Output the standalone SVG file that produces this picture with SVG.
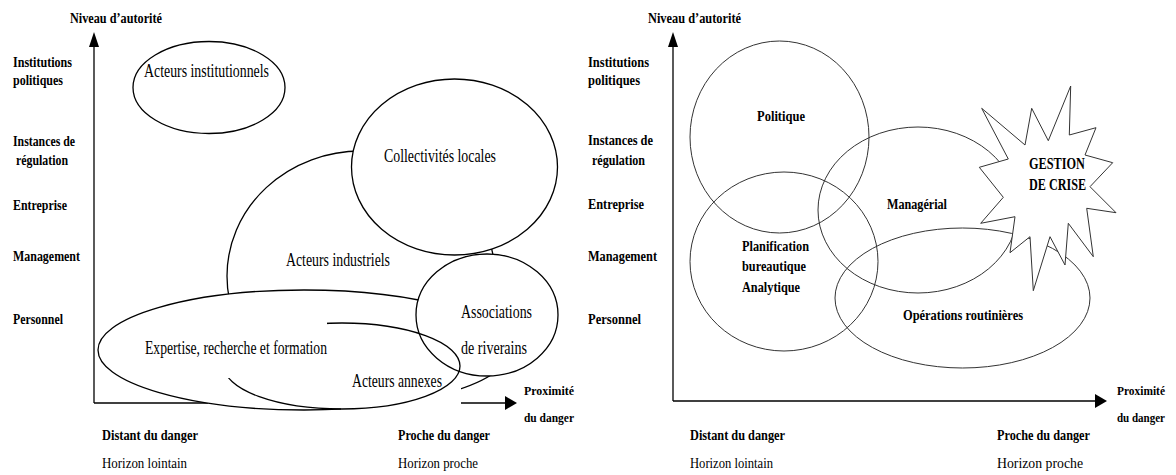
<svg xmlns="http://www.w3.org/2000/svg" width="1176" height="475" viewBox="0 0 1176 475">
<style>
.lbl{font-family:"Liberation Serif","Times New Roman",serif;font-weight:bold;font-size:15px;fill:#000}
.reg{font-family:"Liberation Serif","Times New Roman",serif;font-size:15px;fill:#000}
.nt{font-family:"Liberation Serif","Times New Roman",serif;font-size:19px;fill:#000}
.lsh{fill:#fff;stroke:#000;stroke-width:1.3}
.lnf{fill:none;stroke:#000;stroke-width:1.3}
.rsh{fill:none;stroke:#333;stroke-width:1}
.ax{stroke:#000;stroke-width:1.3;fill:none}
.hd{fill:#000}
.sm{font-size:13px}
</style>
<rect width="1176" height="475" fill="#fff"/>
<!-- LEFT DIAGRAM -->
<g id="left-axes">
<line class="ax" x1="94" y1="46" x2="94" y2="403"/>
<polygon class="hd" points="94,32 89,47 99,47"/>
<line class="ax" x1="94" y1="403" x2="208" y2="403"/>
<line class="ax" x1="461" y1="403" x2="506" y2="403"/>
<polygon class="hd" points="517,403 505,396 505,410"/>
<text class="lbl" x="70" y="23" textLength="92" lengthAdjust="spacingAndGlyphs">Niveau d’autorité</text>
<text class="lbl" x="13" y="67" textLength="59" lengthAdjust="spacingAndGlyphs">Institutions</text>
<text class="lbl" x="13" y="85" textLength="50" lengthAdjust="spacingAndGlyphs">politiques</text>
<text class="lbl" x="13" y="146" textLength="62" lengthAdjust="spacingAndGlyphs">Instances de</text>
<text class="lbl" x="16" y="165" textLength="52" lengthAdjust="spacingAndGlyphs">régulation</text>
<text class="lbl" x="13" y="210" textLength="54" lengthAdjust="spacingAndGlyphs">Entreprise</text>
<text class="lbl" x="13" y="261" textLength="67" lengthAdjust="spacingAndGlyphs">Management</text>
<text class="lbl" x="13" y="324" textLength="50" lengthAdjust="spacingAndGlyphs">Personnel</text>
<text class="lbl sm" x="524" y="395" textLength="50" lengthAdjust="spacingAndGlyphs">Proximité</text>
<text class="lbl sm" x="524" y="422" textLength="50" lengthAdjust="spacingAndGlyphs">du danger</text>
<text class="lbl" x="102" y="440" textLength="96" lengthAdjust="spacingAndGlyphs">Distant du danger</text>
<text class="reg" x="102" y="468" textLength="85" lengthAdjust="spacingAndGlyphs">Horizon lointain</text>
<text class="lbl" x="398" y="440" textLength="92" lengthAdjust="spacingAndGlyphs">Proche du danger</text>
<text class="reg" x="398" y="468" textLength="80" lengthAdjust="spacingAndGlyphs">Horizon proche</text>
</g>
<g id="acteurs-institutionnels">
<ellipse class="lsh" cx="209" cy="87.5" rx="76" ry="46"/>
<text class="nt" x="144" y="77" textLength="125" lengthAdjust="spacingAndGlyphs">Acteurs institutionnels</text>
</g>
<g id="acteurs-industriels">
<ellipse class="lsh" cx="361" cy="276" rx="134" ry="125"/>
<text class="nt" x="286" y="266" textLength="104" lengthAdjust="spacingAndGlyphs">Acteurs industriels</text>
</g>
<g id="collectivites-locales">
<ellipse class="lsh" cx="454.5" cy="167" rx="103" ry="88"/>
<text class="nt" x="384" y="162" textLength="112" lengthAdjust="spacingAndGlyphs">Collectivités locales</text>
</g>
<g id="expertise">
<ellipse class="lsh" cx="304" cy="350" rx="206" ry="60"/>
</g>
<g id="associations-riverains">
<ellipse class="lsh" cx="487" cy="315" rx="71" ry="61"/>
<text class="nt" x="461" y="318" textLength="71" lengthAdjust="spacingAndGlyphs">Associations</text>
<text class="nt" x="461" y="354" textLength="66" lengthAdjust="spacingAndGlyphs">de riverains</text>
</g>
<g id="acteurs-annexes">
<rect x="341" y="380" width="120" height="36" fill="#fff"/>
<ellipse class="lnf" cx="342" cy="366" rx="118" ry="43"/>
<text class="nt" x="352" y="387" textLength="90" lengthAdjust="spacingAndGlyphs">Acteurs annexes</text>
</g>
<g id="expertise-label">
<rect x="130" y="322" width="197" height="56" fill="#fff"/>
<text class="nt" x="145" y="354" textLength="182" lengthAdjust="spacingAndGlyphs">Expertise, recherche et formation</text>
</g>
<!-- RIGHT DIAGRAM -->
<g id="right-axes">
<line class="ax" x1="673" y1="46" x2="673" y2="401"/>
<polygon class="hd" points="673,32 668,47 678,47"/>
<line class="ax" x1="673" y1="401" x2="1096" y2="401"/>
<polygon class="hd" points="1107,401 1095,394 1095,408"/>
<text class="lbl" x="648" y="23" textLength="93" lengthAdjust="spacingAndGlyphs">Niveau d’autorité</text>
<text class="lbl" x="588" y="67" textLength="61" lengthAdjust="spacingAndGlyphs">Institutions</text>
<text class="lbl" x="588" y="85" textLength="52" lengthAdjust="spacingAndGlyphs">politiques</text>
<text class="lbl" x="588" y="145" textLength="65" lengthAdjust="spacingAndGlyphs">Instances de</text>
<text class="lbl" x="592" y="165" textLength="53" lengthAdjust="spacingAndGlyphs">régulation</text>
<text class="lbl" x="588" y="209" textLength="56" lengthAdjust="spacingAndGlyphs">Entreprise</text>
<text class="lbl" x="588" y="261" textLength="69" lengthAdjust="spacingAndGlyphs">Management</text>
<text class="lbl" x="588" y="324" textLength="53" lengthAdjust="spacingAndGlyphs">Personnel</text>
<text class="lbl sm" x="1117" y="395" textLength="48" lengthAdjust="spacingAndGlyphs">Proximité</text>
<text class="lbl sm" x="1117" y="422" textLength="48" lengthAdjust="spacingAndGlyphs">du danger</text>
<text class="lbl" x="690" y="440" textLength="95" lengthAdjust="spacingAndGlyphs">Distant du danger</text>
<text class="reg" x="690" y="468" textLength="83" lengthAdjust="spacingAndGlyphs">Horizon lointain</text>
<text class="lbl" x="997" y="440" textLength="93" lengthAdjust="spacingAndGlyphs">Proche du danger</text>
<text class="reg" x="997" y="468" textLength="86" lengthAdjust="spacingAndGlyphs">Horizon proche</text>
</g>
<g id="politique">
<ellipse class="rsh" cx="779.5" cy="137" rx="89.5" ry="96"/>
<text class="lbl" x="757" y="121" textLength="48" lengthAdjust="spacingAndGlyphs">Politique</text>
</g>
<g id="planification">
<ellipse class="rsh" cx="784" cy="261.5" rx="94" ry="89.5"/>
<text class="lbl" x="742" y="251" textLength="67" lengthAdjust="spacingAndGlyphs">Planification</text>
<text class="lbl" x="742" y="271" textLength="64" lengthAdjust="spacingAndGlyphs">bureautique</text>
<text class="lbl" x="742" y="292" textLength="58" lengthAdjust="spacingAndGlyphs">Analytique</text>
</g>
<g id="managerial">
<ellipse class="rsh" cx="918" cy="210" rx="100" ry="83"/>
<text class="lbl" x="887" y="209" textLength="60" lengthAdjust="spacingAndGlyphs">Managérial</text>
</g>
<g id="operations-routinieres">
<ellipse class="rsh" cx="962.5" cy="298" rx="127.5" ry="70"/>
<text class="lbl" x="903" y="320" textLength="120" lengthAdjust="spacingAndGlyphs">Opérations routinières</text>
</g>
<g id="gestion-de-crise">
<polygon fill="#fff" stroke="#333" stroke-width="1" points="981.7,108.3 1025,145 1031.7,108.3 1048.3,140.7 1070.7,86 1069.3,135 1096,127.7 1085,155 1112.7,162.7 1090,186.7 1116,212.7 1086.7,208.3 1093.3,256.7 1068.3,223.3 1065,265 1050,236.7 1033.3,290.7 1030,236.7 1010,252.7 1015,216.7 980.7,223.3 1003.3,197.3 979.3,167.3 1008.3,159"/>
<text class="lbl" x="1029" y="169" textLength="56" lengthAdjust="spacingAndGlyphs" style="font-size:17px">GESTION</text>
<text class="lbl" x="1029" y="190" textLength="57" lengthAdjust="spacingAndGlyphs" style="font-size:17px">DE CRISE</text>
</g>
</svg>
